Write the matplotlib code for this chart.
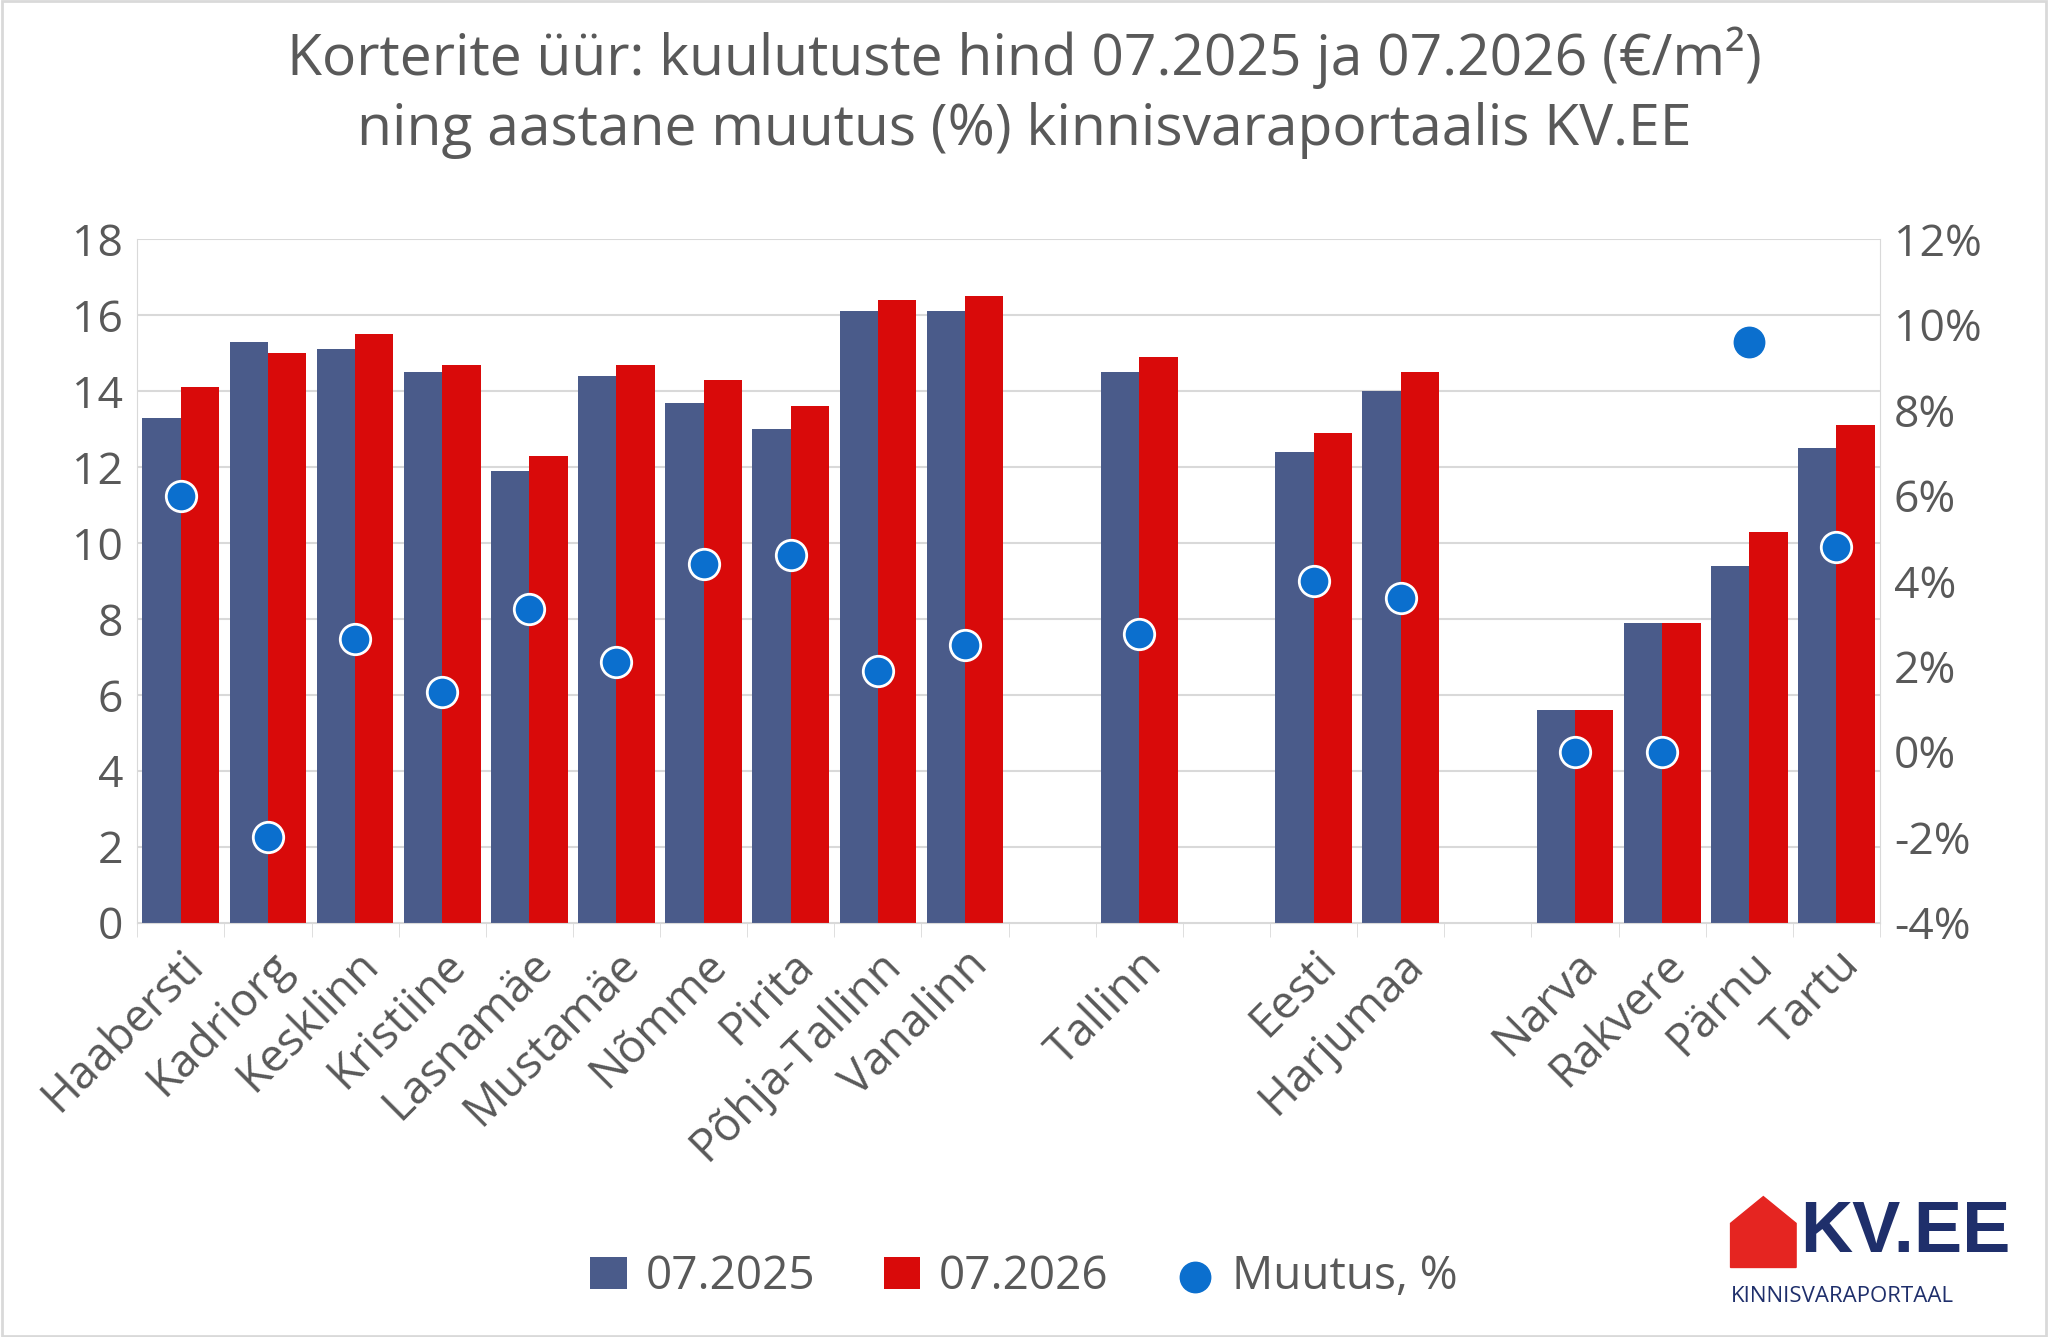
import numpy as np
import matplotlib.pyplot as plt
from matplotlib.patches import Polygon

plt.rcParams['font.family'] = ['Open Sans', 'DejaVu Sans']

# empty strings are spacer slots
labels = ['Haabersti', 'Kadriorg', 'Kesklinn', 'Kristiine', 'Lasnamäe', 'Mustamäe', 'Nõmme',
          'Pirita', 'Põhja-Tallinn', 'Vanalinn', '', 'Tallinn', '', 'Eesti', 'Harjumaa', '',
          'Narva', 'Rakvere', 'Pärnu', 'Tartu']
price_2025 = [13.3, 15.3, 15.1, 14.5, 11.9, 14.4, 13.7, 13.0, 16.1, 16.1, None, 14.5, None,
              12.4, 14.0, None, 5.6, 7.9, 9.4, 12.5]
price_2026 = [14.1, 15.0, 15.5, 14.7, 12.3, 14.7, 14.3, 13.6, 16.4, 16.5, None, 14.9, None,
              12.9, 14.5, None, 5.6, 7.9, 10.3, 13.1]
change_pct = [6.0, -2.0, 2.65, 1.4, 3.35, 2.1, 4.4, 4.6, 1.9, 2.5, None, 2.75, None,
              4.0, 3.6, None, 0.0, 0.0, 9.6, 4.8]

blue = '#4A5B8A'
red = '#D90A0A'
dot = '#0B6FCE'
txt = '#595959'

fig = plt.figure(figsize=(20.48, 13.37), dpi=100)
ax = fig.add_axes([0.067, 0.31, 0.851, 0.511])
ax2 = ax.twinx()

x = np.arange(len(labels))
w = 0.44
idx = [i for i, v in enumerate(price_2025) if v is not None]
ax.bar(x[idx] - w / 2, [price_2025[i] for i in idx], w, color=blue, label='07.2025', zorder=2)
ax.bar(x[idx] + w / 2, [price_2026[i] for i in idx], w, color=red, label='07.2026', zorder=2)

cx = [i for i in idx if i != 18]
ax2.scatter(cx, [change_pct[i] for i in cx], s=480, color=dot, edgecolor='white', linewidth=2, zorder=3)
ax2.scatter([18], [change_pct[18]], s=480, color=dot, zorder=3, label='Muutus, %')

ax.set_xlim(-0.5, len(labels) - 0.5)
ax.set_ylim(0, 18)
ax.set_yticks(range(0, 19, 2))
ax2.set_ylim(-4, 12)
ax2.set_yticks(range(-4, 13, 2))
ax2.set_yticklabels([f'{v}%' for v in range(-4, 13, 2)])
ax.grid(axis='y', color='#D9D9D9', linewidth=1.5, zorder=0)
ax.set_axisbelow(True)

for a in (ax, ax2):
    for s in a.spines.values():
        s.set_visible(False)
    a.tick_params(axis='y', length=0, labelsize=32, labelcolor=txt, pad=10)
ax.spines['bottom'].set_visible(True)
ax.spines['bottom'].set_color('#D9D9D9')
ax.spines['left'].set_visible(True)
ax.spines['left'].set_color('#D9D9D9')
ax2.spines['right'].set_visible(True)
ax2.spines['right'].set_color('#D9D9D9')

ax.set_xticks(np.arange(-0.5, len(labels), 1), minor=True)
ax.tick_params(axis='x', which='minor', length=10, color='#D9D9D9')
ax.set_xticks(x)
ax.set_xticklabels(labels, rotation=45, ha='right', rotation_mode='anchor', fontsize=33, color=txt)
ax.tick_params(axis='x', which='major', length=0, pad=14)

fig.suptitle('Korterite üür: kuulutuste hind 07.2025 ja 07.2026 (€/m²)\nning aastane muutus (%) kinnisvaraportaalis KV.EE',
             fontsize=41, color=txt, y=0.98, linespacing=1.3)

h1, l1 = ax.get_legend_handles_labels()
h2, l2 = ax2.get_legend_handles_labels()
fig.legend(h1 + h2, l1 + l2, loc='center', bbox_to_anchor=(0.5, 0.045), ncol=3, frameon=False,
           fontsize=33, labelcolor=txt, handlelength=0.8, handletextpad=0.4, columnspacing=1.5)

# logo
fig.patches.append(Polygon([(0.845, 0.052), (0.845, 0.085), (0.861, 0.105), (0.877, 0.085),
                            (0.877, 0.052)], closed=True, transform=fig.transFigure, color='#E52521'))
fig.text(0.879, 0.078, 'KV.EE', fontsize=52, fontweight='bold', color='#1F2F6B', va='center', family='Liberation Sans')
fig.text(0.845, 0.03, 'KINNISVARAPORTAAL', fontsize=16, color='#1F2F6B', va='center')

fig.patches.append(plt.Rectangle((0.001, 0.001), 0.998, 0.998, transform=fig.transFigure,
                                 fill=False, edgecolor='#D9D9D9', linewidth=2))

fig.savefig('out.png')
